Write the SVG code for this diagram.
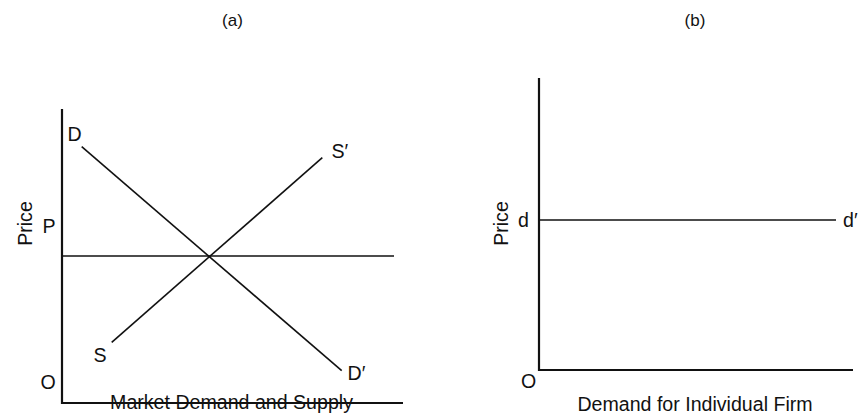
<svg xmlns="http://www.w3.org/2000/svg" width="862" height="417" viewBox="0 0 862 417">
<style>
text{font-family:"Liberation Sans",Arial,sans-serif;fill:#111;font-size:19.6px}
.t{font-size:17px;text-anchor:middle}
.ax{stroke:#111;stroke-width:2.2;fill:none}
.ln{stroke:#111;stroke-width:1.6;fill:none}
</style>
<rect width="862" height="417" fill="#fff"/>
<text class="t" x="232.5" y="26">(a)</text>
<text class="t" x="695" y="26">(b)</text>
<g id="panel-a">
<g id="axes-a">
<path class="ax" d="M62,109 V403 H403"/>
</g>
<g id="connectors-a">
<line class="ln" x1="62" y1="256" x2="394" y2="256"/>
<line class="ln" x1="81.7" y1="146.7" x2="341.7" y2="370.7"/>
<line class="ln" x1="111.7" y1="342.3" x2="322.3" y2="157.7"/>
</g>
<g id="labels-a">
<text x="67.5" y="141">D</text>
<text x="331.5" y="158">S′</text>
<text x="42.5" y="233">P</text>
<text x="93.5" y="362">S</text>
<text x="347.5" y="380">D′</text>
<text x="48" y="389" text-anchor="middle">O</text>
<text x="231.5" y="409" text-anchor="middle">Market Demand and Supply</text>
<text transform="translate(32,223.5) rotate(-90)" text-anchor="middle">Price</text>
</g>
</g>
<g id="panel-b">
<g id="axes-b">
<path class="ax" d="M539,78 V370 H853"/>
</g>
<g id="connectors-b">
<line class="ln" x1="539" y1="220" x2="836" y2="220"/>
</g>
<g id="labels-b">
<text x="518" y="227">d</text>
<text x="843" y="227">d′</text>
<text x="528.5" y="388" text-anchor="middle">O</text>
<text x="695" y="411" text-anchor="middle">Demand for Individual Firm</text>
<text transform="translate(508,223.5) rotate(-90)" text-anchor="middle">Price</text>
</g>
</g>
</svg>
